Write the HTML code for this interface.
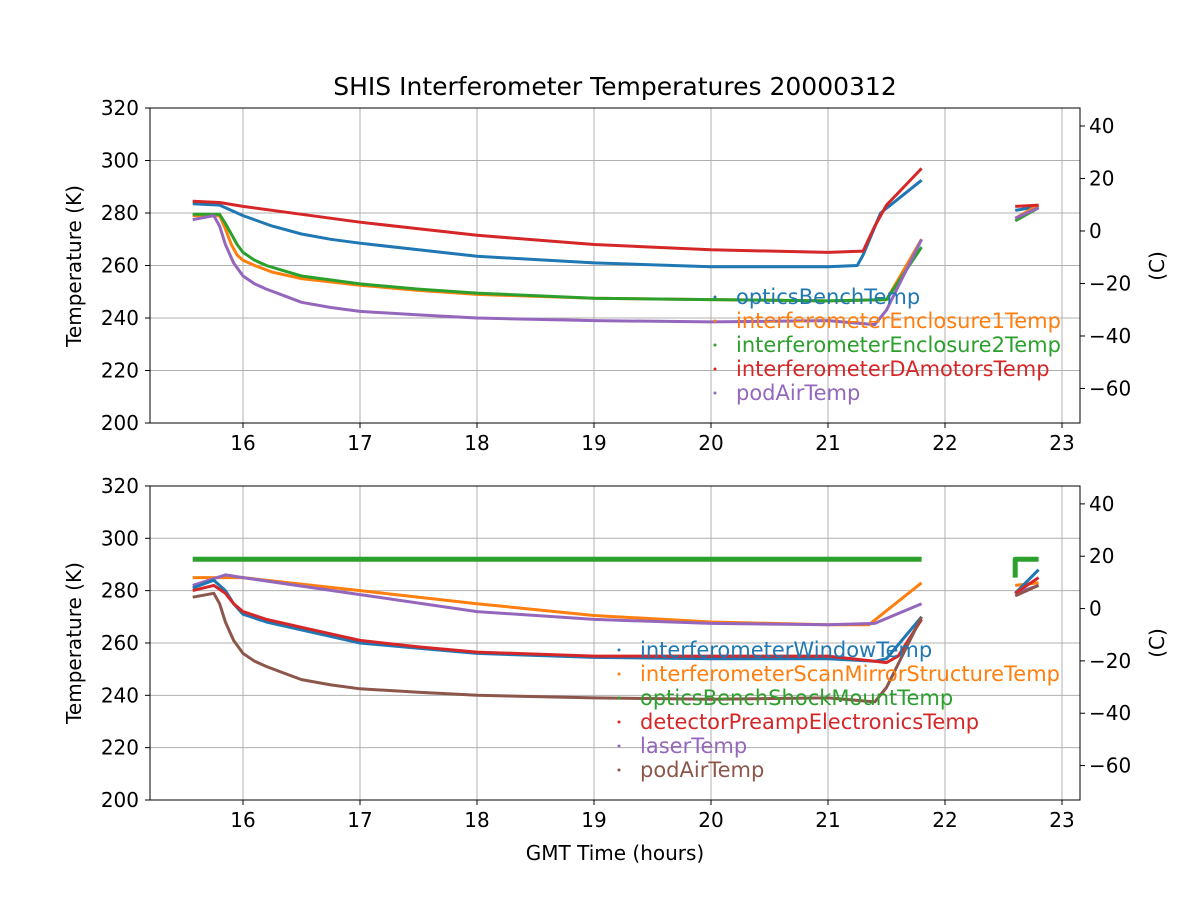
<!DOCTYPE html>
<html><head><meta charset="utf-8"><style>
html,body{margin:0;padding:0;background:#fff}
svg{display:block;font-family:"DejaVu Sans","Liberation Sans",sans-serif}
</style></head><body>
<svg id="s" width="1200" height="900" viewBox="0 0 1200 900" xmlns="http://www.w3.org/2000/svg">
<rect width="1200" height="900" fill="#fff"/>
<text x="615" y="95" font-size="25" text-anchor="middle">SHIS Interferometer Temperatures 20000312</text>
<g id="g"></g>
<text x="615" y="860" font-size="20" text-anchor="middle">GMT Time (hours)</text>
<text transform="translate(81,266) rotate(-90)" font-size="20" text-anchor="middle">Temperature (K)</text>
<text transform="translate(81,643) rotate(-90)" font-size="20" text-anchor="middle">Temperature (K)</text>
<text transform="translate(1164,266) rotate(-90)" font-size="20" text-anchor="middle">(C)</text>
<text transform="translate(1164,643) rotate(-90)" font-size="20" text-anchor="middle">(C)</text>
<g font-size="21">
<circle cx="715" cy="297" r="1.5" fill="#1f77b4"/><text x="736" y="304" fill="#1f77b4">opticsBenchTemp</text>
<circle cx="715" cy="321" r="1.5" fill="#ff7f0e"/><text x="736" y="328" fill="#ff7f0e">interferometerEnclosure1Temp</text>
<circle cx="715" cy="345" r="1.5" fill="#2ca02c"/><text x="736" y="352" fill="#2ca02c">interferometerEnclosure2Temp</text>
<circle cx="715" cy="369" r="1.5" fill="#d62728"/><text x="736" y="376" fill="#d62728">interferometerDAmotorsTemp</text>
<circle cx="715" cy="393" r="1.5" fill="#9467bd"/><text x="736" y="400" fill="#9467bd">podAirTemp</text>
<circle cx="619" cy="650" r="1.5" fill="#1f77b4"/><text x="640" y="657" fill="#1f77b4">interferometerWindowTemp</text>
<circle cx="619" cy="674" r="1.5" fill="#ff7f0e"/><text x="640" y="681" fill="#ff7f0e">interferometerScanMirrorStructureTemp</text>
<circle cx="619" cy="698" r="1.5" fill="#2ca02c"/><text x="640" y="705" fill="#2ca02c">opticsBenchShockMountTemp</text>
<circle cx="619" cy="722" r="1.5" fill="#d62728"/><text x="640" y="729" fill="#d62728">detectorPreampElectronicsTemp</text>
<circle cx="619" cy="746" r="1.5" fill="#9467bd"/><text x="640" y="753" fill="#9467bd">laserTemp</text>
<circle cx="619" cy="770" r="1.5" fill="#8c564b"/><text x="640" y="777" fill="#8c564b">podAirTemp</text>
</g>
</svg>
<script>
var g=document.getElementById('g'),NS='http://www.w3.org/2000/svg';
function el(t,a){var e=document.createElementNS(NS,t);for(var k in a)e.setAttribute(k,a[k]);g.appendChild(e);return e;}
function X(h){return 243+(h-16)*117;}
var P=[{y0:423,k:2.625,top:108},{y0:800,k:2.617,top:486}];
P.forEach(function(p){
 var Y=function(T){return p.y0-(T-200)*p.k;};
 for(var h=16;h<=23;h++){el('line',{x1:X(h),x2:X(h),y1:p.top,y2:p.y0,stroke:'#b0b0b0','stroke-width':1});
  el('line',{x1:X(h),x2:X(h),y1:p.y0,y2:p.y0+5,stroke:'#000'});
  var t=el('text',{x:X(h),y:p.y0+27,'font-size':20,'text-anchor':'middle'});t.textContent=h;}
 for(var T=200;T<=320;T+=20){el('line',{x1:150,x2:1080,y1:Y(T),y2:Y(T),stroke:'#b0b0b0','stroke-width':1});
  el('line',{x1:145,x2:150,y1:Y(T),y2:Y(T),stroke:'#000'});
  var t=el('text',{x:139,y:Y(T)+7,'font-size':20,'text-anchor':'end'});t.textContent=T;}
 for(var C=-60;C<=40;C+=20){var yy=Y(C+273.15);el('line',{x1:1080,x2:1085,y1:yy,y2:yy,stroke:'#000'});
  var t=el('text',{x:1089,y:yy+7,'font-size':20});t.textContent=C<0?'\u2212'+(-C):C;}
 el('rect',{x:150,y:p.top,width:930,height:p.y0-p.top,fill:'none',stroke:'#000','stroke-width':1});
 p.Y=Y;
});
function line(p,pts,c,w){var s=pts.map(function(q){return X(q[0]).toFixed(1)+','+p.Y(q[1]).toFixed(1);}).join(' ');
 el('polyline',{points:s,fill:'none',stroke:c,'stroke-width':w||3,'stroke-linejoin':'round'});}
var a=P[0],b=P[1];
var pod=[[15.57,277.5],[15.75,279],[15.8,275],[15.85,268],[15.92,261],[16,256],[16.1,253],[16.2,251],[16.35,248.5],[16.5,246],[16.75,244],[17,242.5],[17.5,241.2],[18,240],[19,239],[20,238.5],[21,239],[21.4,237.5],[21.5,243],[21.8,270]];
line(a,[[15.57,283.5],[15.8,283],[16,279],[16.25,275],[16.5,272],[16.75,270],[17,268.5],[17.5,266],[18,263.5],[19,261],[20,259.5],[21,259.5],[21.25,260],[21.3,264],[21.45,280],[21.8,292.5]],'#1f77b4');
line(a,[[22.6,281],[22.8,282.5]],'#1f77b4');
line(a,[[15.57,279],[15.8,279],[15.85,274],[15.9,268],[15.95,264],[16,262],[16.1,260],[16.25,257.5],[16.5,255],[17,252.5],[17.5,250.5],[18,249],[19,247.5],[20,247],[21,246.5],[21.5,247],[21.8,270]],'#ff7f0e');
line(a,[[22.6,278],[22.8,283]],'#ff7f0e');
line(a,[[15.57,279.5],[15.8,279.5],[15.85,276],[15.9,272],[15.95,268],[16,265],[16.1,262],[16.2,260],[16.35,258],[16.5,256],[17,253],[17.5,251],[18,249.5],[19,247.5],[20,247],[21,246.5],[21.5,247],[21.8,267]],'#2ca02c');
line(a,[[22.6,277],[22.8,282]],'#2ca02c');
line(a,[[15.57,284.5],[15.8,284],[16,282.5],[16.5,279.5],[17,276.5],[17.5,274],[18,271.5],[19,268],[20,266],[21,265],[21.3,265.5],[21.4,275],[21.5,283],[21.8,297]],'#d62728');
line(a,[[22.6,282.5],[22.8,283]],'#d62728');
line(a,pod,'#9467bd');
line(a,[[22.6,278],[22.8,282]],'#9467bd');
line(b,[[15.57,292],[21.8,292]],'#2ca02c',5);
line(b,[[22.6,285],[22.6,292],[22.8,292]],'#2ca02c',5);
line(b,[[15.57,285],[16,285],[17,280],[18,275],[19,270.5],[20,268],[21,267],[21.35,267],[21.8,283]],'#ff7f0e');
line(b,[[22.6,282],[22.8,283]],'#ff7f0e');
line(b,[[15.57,282],[15.85,286],[16,285],[17,278.5],[18,272],[19,269],[20,267.5],[21,267],[21.4,267.5],[21.8,275]],'#9467bd');
line(b,[[22.6,279],[22.8,282]],'#9467bd');
line(b,[[15.57,281],[15.75,284],[15.85,280],[15.92,275],[16,271],[16.2,268],[16.5,265],[17,260],[17.5,258],[18,256],[19,254.5],[20,254],[21,254],[21.4,253],[21.5,254],[21.8,270]],'#1f77b4');
line(b,[[22.6,279],[22.8,288]],'#1f77b4');
line(b,[[15.57,280],[15.75,282],[15.85,279],[15.92,275],[16,272],[16.2,269],[16.5,266],[17,261],[17.5,258.5],[18,256.5],[19,255],[20,255],[21,255],[21.4,253],[21.5,252.5],[21.6,255],[21.8,269]],'#d62728');
line(b,[[22.6,279],[22.8,285]],'#d62728');
line(b,pod,'#8c564b');
line(b,[[22.6,278],[22.8,282]],'#8c564b');
</script>
</body></html>
